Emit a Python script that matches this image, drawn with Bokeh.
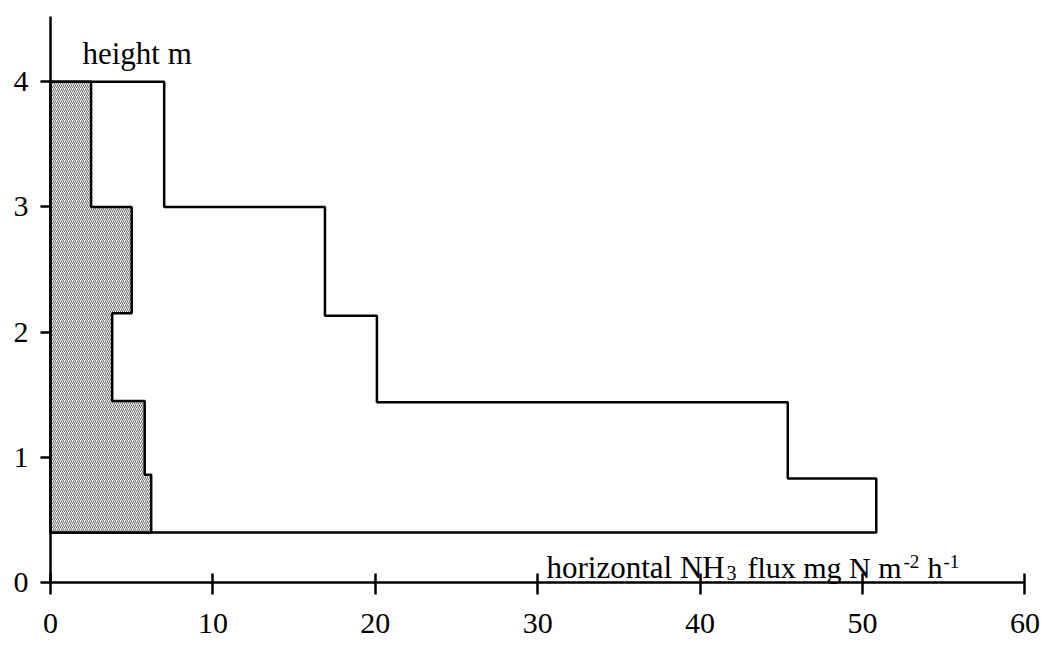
from bokeh.plotting import figure
from bokeh.models import Range1d, LinearAxis, FixedTicker, Label
from bokeh.embed import file_html
from bokeh.resources import INLINE

# ---- data ----
outer_bounds = [0.40, 0.83, 1.44, 2.13, 3.00, 4.00]   # layer boundaries (height m)
outer_flux = [50.85, 45.4, 20.1, 16.9, 7.0]           # flux per layer, bottom to top
inner_bounds = [0.40, 0.86, 1.45, 2.15, 3.00, 4.00]
inner_flux = [6.2, 5.8, 3.8, 5.0, 2.5]
x_ticks = [0, 10, 20, 30, 40, 50, 60]
y_ticks = [0, 1, 2, 3, 4]


def step_polygon(bounds, flux):
    xs = [0]
    ys = [bounds[0]]
    for i, f in enumerate(flux):
        xs += [f, f]
        ys += [bounds[i], bounds[i + 1]]
    xs.append(0)
    ys.append(bounds[-1])
    return xs, ys


FONT = "Liberation Serif"

p = figure(width=1045, height=640,
           x_range=Range1d(-3.079, 61.27), y_range=Range1d(-0.463, 4.649),
           x_axis_location=None, y_axis_location=None,
           min_border=0, toolbar_location=None, output_backend="svg")
p.grid.visible = False
p.outline_line_color = None

ox, oy = step_polygon(outer_bounds, outer_flux)
p.patch(ox, oy, fill_color="white", line_color="black", line_width=2.5)

ix, iy = step_polygon(inner_bounds, inner_flux)
p.patch(ix, iy, fill_color="#eeeeee", hatch_pattern="/", hatch_color="#707070",
        hatch_scale=4, hatch_weight=1.0, line_color="black", line_width=2.5)

xa = LinearAxis(fixed_location=0, ticker=FixedTicker(ticks=x_ticks), bounds=(0, 60))
ya = LinearAxis(fixed_location=0, ticker=FixedTicker(ticks=y_ticks), bounds=(0, 4.52))
for ax in (xa, ya):
    ax.axis_line_width = 2.5
    ax.axis_line_color = "black"
    ax.major_tick_line_width = 2.5
    ax.major_tick_line_color = "black"
    ax.minor_tick_line_color = None
    ax.major_label_text_font = FONT
    ax.major_label_text_font_size = "30px"
    ax.major_label_text_color = "black"
xa.major_tick_in = 9
xa.major_tick_out = 12
xa.major_label_standoff = 19
ya.major_tick_in = 0
ya.major_tick_out = 10
ya.major_label_standoff = 12
p.add_layout(xa, "below")
p.add_layout(ya, "left")

p.add_layout(Label(x=1.97, y=4.225, text="height m", text_font=FONT,
                   text_font_size="31px", text_color="black", text_baseline="alphabetic"))

# x-axis title with sub/superscripts (pieces offset in px from one anchor)
x0, yb = 30.54, 0.12
pieces = [
    ("horizontal NH", 0, 0, "31px"),
    ("3", 180, -5, "20px"),
    ("flux mg N m", 201, 0, "30px"),
    ("-2", 357, 6, "19px"),
    ("h", 381, 0, "30px"),
    ("-1", 397, 6, "19px"),
]
for txt, dx, dy, fs in pieces:
    p.add_layout(Label(x=x0, y=yb, x_offset=dx, y_offset=dy, text=txt, text_font=FONT,
                       text_font_size=fs, text_color="black", text_baseline="alphabetic"))

open("out.html", "w").write(file_html(p, INLINE))
